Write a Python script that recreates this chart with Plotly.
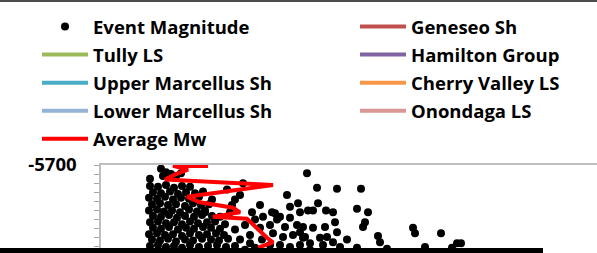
import plotly.graph_objects as go

# Event magnitudes (Mw) and depths (ft)
event_mag = [
    -2.45, -2.40, -2.35, -2.30, -2.25, -2.51, -2.38, -2.20,
    -2.51, -2.43, -2.35, -2.27, -2.19, -2.11,
    -2.48, -2.40, -2.31, -2.23, -2.15, -2.06, -1.98,
    -2.52, -2.44, -2.36, -2.28, -2.20, -2.12, -2.02,
    -2.49, -2.41, -2.33, -2.25, -2.16, -2.08, -2.00, -1.92,
    -2.52, -2.44, -2.37, -2.29, -2.21, -2.12, -2.04, -1.96,
    -2.48, -2.40, -2.32, -2.24, -2.16, -2.07, -1.99, -1.89,
    -2.51, -2.43, -2.35, -2.27, -2.19, -2.11, -2.03, -1.94, -1.86,
    -2.48, -2.40, -2.32, -2.23, -2.15, -2.07, -1.98, -1.90, -1.81,
    -2.52, -2.44, -2.36, -2.28, -2.19, -2.11, -2.02, -1.94, -1.85, -1.77,
    -2.49, -2.41, -2.33, -2.25, -2.16, -2.08, -1.99, -1.90, -1.82, -1.73,
    -2.51, -2.43, -2.35, -2.27, -2.19, -2.11, -2.02, -1.93, -1.84, -1.75, -1.66,
    -2.48, -2.40, -2.31, -2.23, -2.14, -2.05, -1.96, -1.87, -1.78, -1.69,
    -1.58, -1.89, -1.66, -1.61, -1.69, -1.96, -1.81, -1.49, -1.41, -1.29,
    -1.21, -1.38, -1.46, -1.14, -1.03, -1.11, -1.01, -0.93, -0.83, -1.74,
    -1.56, -1.66, -1.41, -1.31, -1.16, -1.26, -1.24, -1.11, -1.04, -0.98,
    -1.28, -1.18, -1.08, -0.98, -1.51, -1.61, -1.39, -1.31, -1.21, -1.11,
    -1.01, -1.56, -1.46, -1.36, -1.16, -1.71, -1.76, -1.51,
    -0.94, -0.84, -0.64, -0.40, -0.88, -0.75, -0.68, -0.44, -0.33, -0.36,
    -0.38, -0.66, -0.88, -0.76, -0.64, -0.54, -0.23, -0.21, 0.12, 0.14,
    0.40, 0.24, 0.56, 0.60, 0.51, -0.61, -0.44, -0.14, -0.96, -0.91,
    -0.81, -0.74, -0.78, -0.68, -0.91, -0.76, -0.51, -1.01,
]
event_depth = [
    -5699, -5704, -5708, -5710, -5712, -5715, -5712, -5709,
    -5723, -5724, -5722, -5725, -5723, -5724,
    -5730, -5731, -5729, -5732, -5730, -5731, -5729,
    -5736, -5737, -5735, -5738, -5736, -5737, -5735,
    -5743, -5742, -5744, -5743, -5745, -5742, -5744, -5743,
    -5750, -5749, -5751, -5750, -5752, -5749, -5751, -5750,
    -5756, -5757, -5755, -5758, -5756, -5757, -5755, -5756,
    -5763, -5762, -5764, -5763, -5765, -5762, -5764, -5763, -5762,
    -5769, -5770, -5768, -5771, -5769, -5770, -5768, -5769, -5770,
    -5776, -5775, -5777, -5776, -5778, -5775, -5777, -5776, -5775, -5777,
    -5782, -5783, -5781, -5784, -5782, -5783, -5781, -5782, -5783, -5781,
    -5789, -5788, -5790, -5789, -5791, -5788, -5790, -5789, -5788, -5790, -5789,
    -5796, -5795, -5797, -5796, -5798, -5795, -5797, -5796, -5795, -5797,
    -5720, -5738, -5738, -5733, -5744, -5752, -5757, -5752, -5744, -5752,
    -5757, -5757, -5760, -5733, -5742, -5746, -5752, -5750, -5742, -5727,
    -5766, -5771, -5769, -5766, -5768, -5753, -5760, -5758, -5766, -5768,
    -5775, -5779, -5777, -5780, -5777, -5782, -5782, -5788, -5788, -5790,
    -5788, -5793, -5791, -5796, -5796, -5752, -5765, -5786,
    -5709, -5725, -5726, -5726, -5750, -5750, -5752, -5748, -5752, -5763,
    -5768, -5763, -5769, -5768, -5774, -5782, -5778, -5785, -5769, -5775,
    -5775, -5790, -5786, -5786, -5791, -5790, -5791, -5792, -5779, -5786,
    -5780, -5779, -5788, -5785, -5793, -5796, -5796, -5774,
]

# Average Mw by depth
avg_mw = [-1.93, -2.28, -2.13, -2.25, -2.36, -1.28, -2.14, -2.01, -1.68,
          -1.61, -1.88, -1.54, -1.34, -1.28, -1.41, -1.39]
avg_depth = [-5701, -5701, -5705, -5710, -5716, -5722, -5735, -5741, -5747,
             -5752, -5757, -5759, -5780, -5785, -5790, -5797]

left_names = ["Tully LS", "Upper Marcellus Sh", "Lower Marcellus Sh"]
left_colors = ["#9BBB59", "#4BACC6", "#95B3D7"]
right_names = ["Geneseo Sh", "Hamilton Group", "Cherry Valley LS", "Onondaga LS"]
right_colors = ["#C0504D", "#8064A2", "#F79646", "#D99694"]

FONT = "Open Sans"
fig = go.Figure()

fig.add_trace(go.Scatter(
    x=event_mag, y=event_depth, mode="markers", name="Event Magnitude",
    marker=dict(color="black", size=8), cliponaxis=False,
    legend="legend", legendgroup="a0", showlegend=True))
for i, (n, c) in enumerate(zip(left_names, left_colors)):
    fig.add_trace(go.Scatter(x=[None], y=[None], mode="lines", name=n,
                             line=dict(color=c, width=4), showlegend=True,
                             legend="legend", legendgroup="a%d" % (i + 1)))
fig.add_trace(go.Scatter(
    x=avg_mw, y=avg_depth, mode="lines", name="Average Mw", showlegend=True,
    line=dict(color="#FF0000", width=4), legend="legend", legendgroup="a9"))
for i, (n, c) in enumerate(zip(right_names, right_colors)):
    fig.add_trace(go.Scatter(x=[None], y=[None], mode="lines", name=n,
                             line=dict(color=c, width=4), showlegend=True,
                             legend="legend2", legendgroup="b%d" % i))

H_PLOT = 88.0
W_PLOT = 496.0

def px_x(px):
    return (px - 101) / W_PLOT

def px_y(py):
    return (253 - py) / H_PLOT

legend_font = dict(family=FONT, size=18.5, color="black", weight="bold")
fig.update_layout(
    width=597, height=253, showlegend=True,
    margin=dict(l=101, r=0, t=165, b=0, autoexpand=False),
    paper_bgcolor="white", plot_bgcolor="white",
    font=dict(family=FONT, color="black"),
    legend=dict(x=px_x(37), y=px_y(8), xanchor="left", yanchor="top",
                font=legend_font, traceorder="grouped", tracegroupgap=1,
                bgcolor="rgba(0,0,0,0)", itemwidth=46, maxheight=300),
    legend2=dict(x=px_x(355), y=px_y(8), xanchor="left", yanchor="top",
                 font=legend_font, traceorder="grouped", tracegroupgap=1,
                 bgcolor="rgba(0,0,0,0)", itemwidth=46, maxheight=300),
    xaxis=dict(range=[-3.0, 1.96], showgrid=False, zeroline=False,
               showline=True, mirror=True, linecolor="#BFBFBF", linewidth=1.5,
               showticklabels=False, ticks=""),
    yaxis=dict(range=[-5796.7, -5700], showgrid=False, zeroline=False,
               showline=True, linecolor="#BFBFBF", linewidth=1.5,
               tickmode="array", tickvals=[-5700, -5800],
               ticktext=["-5700", "-5800"],
               ticks="outside", ticklen=5, tickcolor="#A6A6A6",
               tickfont=dict(family=FONT, size=18.5, color="black", weight="bold"),
               ticklabelstandoff=14,
               minor=dict(dtick=10, ticks="outside", ticklen=5,
                          tickcolor="#A6A6A6")),
    shapes=[
        dict(type="line", xref="paper", yref="paper",
             x0=px_x(0), x1=px_x(597), y0=px_y(1), y1=px_y(1),
             line=dict(color="#4D4D4D", width=2)),
        dict(type="rect", xref="paper", yref="paper",
             x0=px_x(0), x1=px_x(543), y0=px_y(248), y1=px_y(256),
             fillcolor="black", line=dict(width=0)),
    ],
)

fig.write_html("out.html", config={"displayModeBar": False},
               post_script="document.body.style.margin='0';")
